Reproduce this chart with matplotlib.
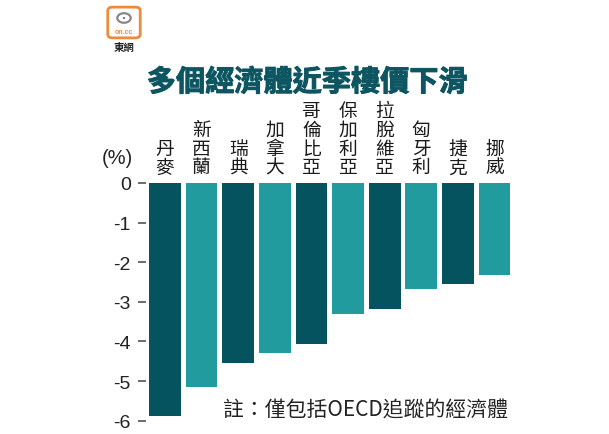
"""Recreate the on.cc bar chart: house prices falling in several economies."""

import matplotlib

matplotlib.use("Agg")
import matplotlib.pyplot as plt
import matplotlib.patheffects as pe
from matplotlib.patches import Circle, FancyBboxPatch

CJK = ["Noto Sans CJK TC", "DejaVu Sans"]
NUM = ["Liberation Sans", "Noto Sans CJK TC"]

TITLE = "多個經濟體近季樓價下滑"
NOTE = "註：僅包括OECD追蹤的經濟體"
COUNTRIES = ["丹麥", "新西蘭", "瑞典", "加拿大", "哥倫比亞",
             "保加利亞", "拉脫維亞", "匈牙利", "捷克", "挪威"]
CHANGE = [-5.87, -5.16, -4.55, -4.29, -4.06, -3.30, -3.18, -2.68, -2.56, -2.33]
YTICKS = [0, -1, -2, -3, -4, -5, -6]

DARK = "#05535f"
LIGHT = "#229b9f"
TITLE_COLOR = "#0d5661"
ORANGE = "#ee8a3c"

W, H = 609, 435
fig = plt.figure(figsize=(W / 100, H / 100), dpi=100)
fig.patch.set_facecolor("white")

# axes box in pixels: left 146, right 511, top 184, bottom 421.7
ax = fig.add_axes([146 / W, 1 - 421.7 / H, 365 / W, 237.7 / H])
colors = [DARK if i % 2 == 0 else LIGHT for i in range(len(COUNTRIES))]
xs = list(range(len(COUNTRIES)))
ax.bar(xs, CHANGE, width=0.866, color=colors, edgecolor="none", clip_on=False)

ax.set_xlim(-0.52, 9.45)
ax.set_ylim(-6, 0)
ax.set_yticks(YTICKS)
ax.set_yticklabels([str(v) for v in YTICKS], family=NUM, fontsize=14, color="#222222")
ax.tick_params(axis="y", length=6, width=1.1, color="#444444", pad=5)
ax.set_xticks([])
for side in ax.spines.values():
    side.set_visible(False)
ax.patch.set_alpha(0)

# vertical category labels above the bars
for i, name in enumerate(COUNTRIES):
    ax.annotate("\n".join(name), xy=(i, 0), xytext=(0, 4), textcoords="offset points",
                ha="center", va="bottom", family=CJK, fontsize=13.5, linespacing=0.86,
                color="#1a1a1a", annotation_clip=False)

fig.text(117 / W, 1 - 158 / H, "(%)", ha="center", va="center",
         family=NUM, fontsize=14.5, color="#222222")

fig.text(307 / W, 1 - 83 / H, TITLE, ha="center", va="center", family=CJK,
         fontsize=21, fontweight="bold", color=TITLE_COLOR,
         path_effects=[pe.withStroke(linewidth=0.7, foreground=TITLE_COLOR)])

fig.text(508 / W, 1 - 411 / H, NOTE, ha="right", va="center", family=CJK,
         fontsize=15, color="#222222")

# on.cc logo
logo = FancyBboxPatch((109 / W, 1 - 38 / H), 30 / W, 29 / H,
                      boxstyle="round,pad=0.002,rounding_size=0.008",
                      transform=fig.transFigure, facecolor="white",
                      edgecolor=ORANGE, linewidth=2)
fig.patches.append(logo)
fig.patches.append(Circle((124 / W, 1 - 19 / H), 0.011, transform=fig.transFigure,
                          facecolor="none", edgecolor="#888888", linewidth=1.6))
fig.patches.append(Circle((124 / W, 1 - 19 / H), 0.002, transform=fig.transFigure,
                          facecolor="#555555", edgecolor="none"))
fig.text(124 / W, 1 - 32 / H, "on.cc", ha="center", va="center", family=NUM,
         fontsize=5, fontweight="bold", color=ORANGE)
fig.text(124 / W, 1 - 48 / H, "東網", ha="center", va="center", family=CJK,
         fontsize=7.5, fontweight="bold", color="#222222")

fig.savefig("out.png", dpi=100)
